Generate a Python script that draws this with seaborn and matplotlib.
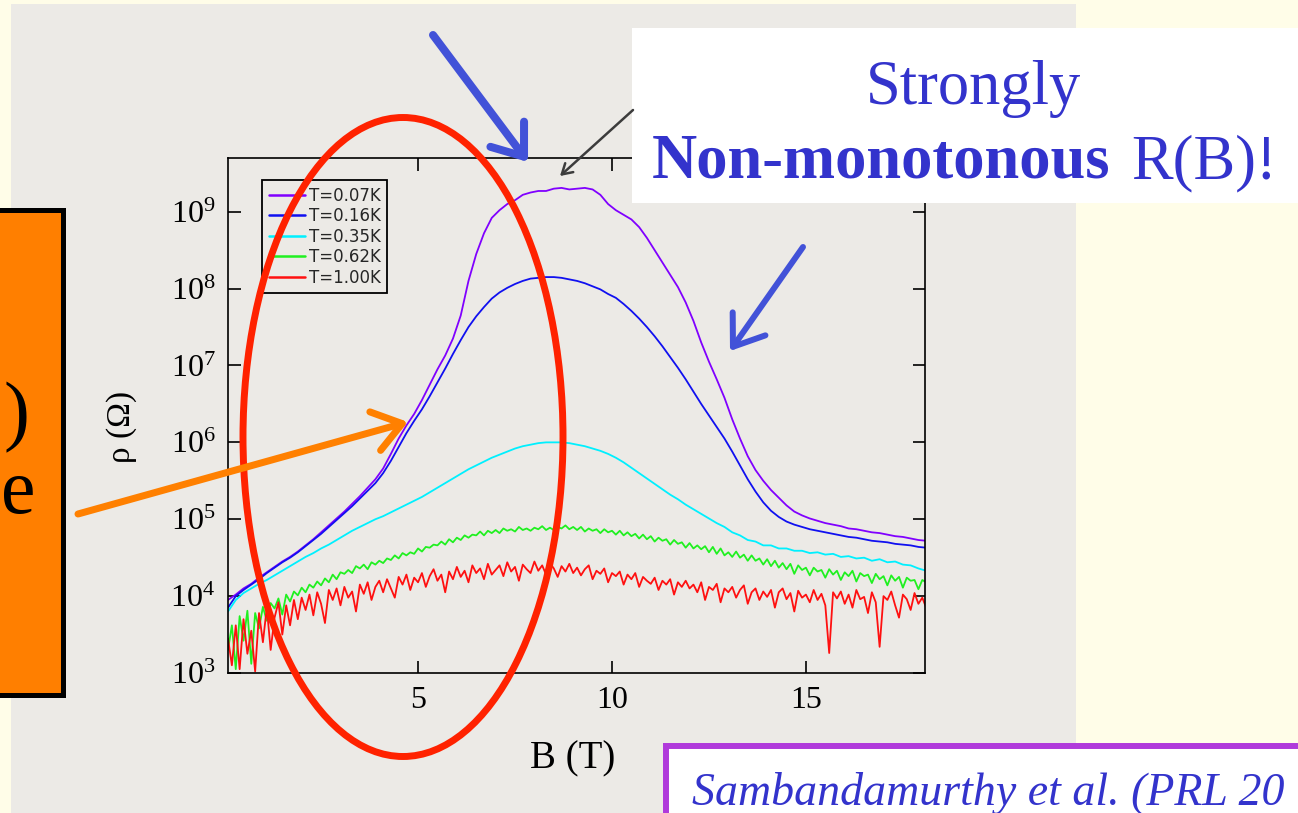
import numpy as np
import pandas as pd
import matplotlib
matplotlib.use("Agg")
import matplotlib.pyplot as plt
import seaborn as sns
from matplotlib.patches import Rectangle, Ellipse, FancyArrowPatch, ArrowStyle
from matplotlib.ticker import FixedLocator, NullLocator, LogFormatterMathtext

# ---------------- data ----------------
labels = ["T=0.07K", "T=0.16K", "T=0.35K", "T=0.62K", "T=1.00K"]
colors = ["#8000FF", "#1010F0", "#00F0FF", "#20F020", "#FF1010"]

# magnetic field grids (T)
B_coarse = np.round(np.arange(0.1, 18.15, 0.2), 2)   # 0.1 ... 18.1
B_fine = np.round(np.arange(0.1, 18.15, 0.1), 2)     # 0.1 ... 18.1

# log10(rho / Ohm)
log_rho_007 = [3.95, 4.02, 4.10, 4.16, 4.24, 4.31, 4.38, 4.45, 4.51, 4.58,
               4.66, 4.74, 4.83, 4.92, 5.01, 5.10, 5.20, 5.30, 5.41, 5.52,
               5.66, 5.85, 6.05, 6.22, 6.37, 6.55, 6.75, 6.95, 7.13, 7.35,
               7.65, 8.10, 8.45, 8.72, 8.92, 9.02, 9.10, 9.15, 9.22, 9.25,
               9.27, 9.27, 9.30, 9.31, 9.29, 9.30, 9.31, 9.29, 9.22, 9.10,
               9.02, 8.96, 8.90, 8.80, 8.66, 8.50, 8.34, 8.18, 8.02, 7.82,
               7.58, 7.30, 7.05, 6.82, 6.58, 6.30, 6.05, 5.82, 5.64, 5.50,
               5.38, 5.28, 5.18, 5.10, 5.05, 5.01, 4.98, 4.95, 4.93, 4.91,
               4.88, 4.87, 4.85, 4.83, 4.82, 4.80, 4.78, 4.77, 4.75, 4.73,
               4.72]

log_rho_016 = [3.85, 4.00, 4.08, 4.15, 4.22, 4.30, 4.37, 4.44, 4.50, 4.57,
               4.65, 4.73, 4.81, 4.90, 4.99, 5.08, 5.17, 5.27, 5.37, 5.47,
               5.60, 5.76, 5.94, 6.12, 6.28, 6.43, 6.60, 6.78, 6.96, 7.15,
               7.33, 7.50, 7.64, 7.76, 7.87, 7.95, 8.01, 8.06, 8.10, 8.13,
               8.14, 8.15, 8.15, 8.14, 8.12, 8.10, 8.07, 8.03, 7.99, 7.93,
               7.88, 7.80, 7.71, 7.61, 7.50, 7.38, 7.25, 7.11, 6.97, 6.82,
               6.66, 6.50, 6.35, 6.20, 6.05, 5.88, 5.70, 5.52, 5.36, 5.22,
               5.11, 5.03, 4.97, 4.93, 4.90, 4.87, 4.85, 4.83, 4.81, 4.79,
               4.77, 4.76, 4.74, 4.72, 4.71, 4.70, 4.68, 4.67, 4.66, 4.64,
               4.63]

log_rho_035 = [3.80, 3.95, 4.04, 4.10, 4.16, 4.21, 4.27, 4.33, 4.39, 4.45,
               4.51, 4.56, 4.62, 4.67, 4.73, 4.79, 4.85, 4.90, 4.95, 5.00,
               5.04, 5.09, 5.14, 5.19, 5.24, 5.29, 5.35, 5.41, 5.47, 5.53,
               5.59, 5.65, 5.70, 5.75, 5.80, 5.84, 5.88, 5.92, 5.95, 5.97,
               5.99, 6.00, 6.00, 6.00, 5.99, 5.97, 5.95, 5.92, 5.89, 5.85,
               5.80, 5.74, 5.67, 5.60, 5.53, 5.46, 5.39, 5.32, 5.26, 5.19,
               5.13, 5.07, 5.01, 4.95, 4.90, 4.83, 4.79, 4.73, 4.71, 4.66,
               4.66, 4.62, 4.62, 4.59, 4.59, 4.56, 4.57, 4.54, 4.55, 4.51,
               4.52, 4.49, 4.50, 4.46, 4.48, 4.44, 4.45, 4.41, 4.40, 4.36,
               4.33]

log_rho_062 = [3.30, 3.62, 3.05, 3.74, 3.42, 3.81, 3.12, 3.78, 3.58, 3.86,
               3.68, 3.91, 3.84, 3.97, 3.76, 4.02, 3.93, 4.06, 4.01, 4.11,
               4.05, 4.15, 4.11, 4.19, 4.14, 4.23, 4.18, 4.28, 4.22, 4.31,
               4.29, 4.34, 4.30, 4.39, 4.36, 4.41, 4.35, 4.44, 4.41, 4.46,
               4.43, 4.49, 4.47, 4.53, 4.49, 4.56, 4.53, 4.57, 4.55, 4.62,
               4.58, 4.64, 4.63, 4.67, 4.66, 4.71, 4.67, 4.74, 4.70, 4.76,
               4.73, 4.79, 4.76, 4.80, 4.79, 4.84, 4.79, 4.85, 4.82, 4.86,
               4.82, 4.88, 4.85, 4.87, 4.84, 4.90, 4.86, 4.88, 4.85, 4.89,
               4.87, 4.91, 4.86, 4.89, 4.86, 4.90, 4.88, 4.92, 4.87, 4.90,
               4.86, 4.90, 4.84, 4.88, 4.85, 4.87, 4.82, 4.87, 4.83, 4.85,
               4.80, 4.85, 4.79, 4.83, 4.78, 4.81, 4.75, 4.80, 4.74, 4.78,
               4.71, 4.76, 4.72, 4.74, 4.67, 4.73, 4.68, 4.70, 4.63, 4.69,
               4.62, 4.66, 4.61, 4.65, 4.57, 4.64, 4.55, 4.62, 4.53, 4.57,
               4.51, 4.58, 4.50, 4.54, 4.46, 4.53, 4.46, 4.49, 4.41, 4.48,
               4.39, 4.46, 4.37, 4.43, 4.35, 4.42, 4.29, 4.40, 4.34, 4.37,
               4.27, 4.37, 4.32, 4.34, 4.24, 4.35, 4.28, 4.33, 4.21, 4.31,
               4.26, 4.33, 4.19, 4.30, 4.26, 4.28, 4.17, 4.29, 4.22, 4.26,
               4.14, 4.27, 4.20, 4.25, 4.11, 4.24, 4.20, 4.21, 4.09, 4.21,
               4.18]

log_rho_100 = [3.45, 3.10, 3.62, 3.05, 3.70, 3.25, 3.55, 3.02, 3.78, 3.40,
               3.85, 3.30, 3.72, 3.92, 3.50, 3.88, 3.62, 3.95, 3.70, 3.98,
               3.82, 4.02, 3.75, 4.05, 3.90, 3.65, 4.08, 3.95, 4.10, 3.88,
               4.12, 3.98, 4.06, 3.80, 4.15, 4.03, 4.18, 3.95, 4.12, 4.20,
               4.05, 4.22, 4.10, 3.98, 4.25, 4.15, 4.28, 4.08, 4.24, 4.18,
               4.30, 4.12, 4.26, 4.35, 4.20, 4.28, 4.05, 4.32, 4.22, 4.38,
               4.25, 4.33, 4.18, 4.40, 4.30, 4.36, 4.22, 4.42, 4.28, 4.34,
               4.40, 4.26, 4.44, 4.32, 4.38, 4.20, 4.41, 4.35, 4.30, 4.45,
               4.33, 4.40, 4.28, 4.43, 4.36, 4.25, 4.39, 4.32, 4.42, 4.30,
               4.37, 4.27, 4.35, 4.40, 4.22, 4.33, 4.29, 4.36, 4.18, 4.30,
               4.26, 4.32, 4.15, 4.28, 4.22, 4.30, 4.12, 4.25, 4.20, 4.16,
               4.24, 4.08, 4.20, 4.15, 4.22, 4.02, 4.18, 4.12, 4.20, 4.10,
               4.15, 4.05, 4.18, 3.95, 4.12, 4.08, 4.16, 3.92, 4.10, 4.05,
               4.12, 3.98, 4.08, 4.14, 3.90, 4.05, 4.10, 3.95, 4.06, 3.99,
               4.08, 3.85, 4.05, 4.10, 3.96, 4.04, 3.80, 4.07, 3.98, 4.02,
               3.92, 4.08, 3.95, 4.03, 3.88, 3.26, 4.05, 3.97, 4.06, 3.90,
               4.02, 3.85, 4.08, 3.96, 3.99, 3.78, 4.05, 3.92, 3.34, 4.00,
               3.95, 4.06, 3.88, 3.72, 4.02, 3.96, 3.82, 4.04, 3.90, 3.98,
               3.85]

y_ticks = [1e3, 1e4, 1e5, 1e6, 1e7, 1e8, 1e9]
x_ticks = [5, 10, 15]

# ---------------- build long table ----------------
series = [(labels[0], B_coarse, log_rho_007),
          (labels[1], B_coarse, log_rho_016),
          (labels[2], B_coarse, log_rho_035),
          (labels[3], B_fine, log_rho_062),
          (labels[4], B_fine, log_rho_100)]
df = pd.concat([pd.DataFrame({"B": b, "rho": 10 ** np.asarray(v), "T": lab})
                for lab, b, v in series], ignore_index=True)
palette = dict(zip(labels, colors))

# ---------------- style ----------------
sns.set_style("ticks")
plt.rcParams["font.family"] = ["Liberation Serif", "DejaVu Serif"]
plt.rcParams["mathtext.fontset"] = "custom"
plt.rcParams["mathtext.rm"] = "Liberation Serif"
plt.rcParams["mathtext.it"] = "Liberation Serif:italic"
plt.rcParams["mathtext.bf"] = "Liberation Serif:bold"
plt.rcParams["mathtext.default"] = "regular"

W, H = 1298, 813
fig = plt.figure(figsize=(W / 100, H / 100), dpi=100, facecolor="#FFFDE8")


def fx(x):
    return x / W


def fy(y):
    return 1 - y / H


# photo (grey) background of the slide picture
fig.add_artist(Rectangle((fx(11), 0), fx(1076) - fx(11), fy(4), transform=fig.transFigure,
                         facecolor="#ECEAE6", edgecolor="none", zorder=-5))

ax = fig.add_axes([fx(228), fy(673), fx(925) - fx(228), fy(158) - fy(673)])
ax.set_facecolor("none")

sns.lineplot(data=df, x="B", y="rho", hue="T", hue_order=labels, palette=palette,
             estimator=None, sort=False, linewidth=1.3, ax=ax, legend=False)

ax.set_yscale("log")
ax.set_xlim(0.1, 18.07)
ax.set_ylim(1e3, 5e9)
ax.yaxis.set_major_locator(FixedLocator(y_ticks))
ax.yaxis.set_major_formatter(LogFormatterMathtext())
ax.yaxis.set_minor_locator(NullLocator())
ax.xaxis.set_major_locator(FixedLocator(x_ticks))
ax.xaxis.set_minor_locator(NullLocator())
ax.tick_params(which="major", direction="in", top=True, right=True, length=9, width=1.2,
               labelsize=23, pad=9, color="black", labelcolor="black")
for s in ax.spines.values():
    s.set_visible(True)
    s.set_linewidth(1.2)
    s.set_color("black")

ax.set_xlabel("B (T)", fontsize=28, color="black")
ax.xaxis.set_label_coords(0.495, -0.13)
ax.set_ylabel("ρ (Ω)", fontsize=24, color="black")
ax.yaxis.set_label_coords(-0.131, 0.478)

handles = ax.get_lines()[:5]
leg = ax.legend(handles, labels, loc="upper left", bbox_to_anchor=(0.049, 0.957),
                frameon=True, fancybox=False, edgecolor="black", facecolor="#ECEAE6",
                framealpha=1, prop={"family": "DejaVu Sans", "size": 12},
                handlelength=2.2, handletextpad=0.2, labelspacing=0.15,
                borderpad=0.4, borderaxespad=0)
leg.get_frame().set_linewidth(1.3)
for ln in leg.get_lines():
    ln.set_linewidth(1.8)

# ---------------- slide overlays ----------------
blue_txt = "#3333CC"

# orange side box
fig.add_artist(Rectangle((fx(-10), fy(695)), fx(62.5) - fx(-10), fy(210.5) - fy(695),
                         transform=fig.transFigure, facecolor="#FF7F00",
                         edgecolor="black", lw=3.6, zorder=4))
fig.text(fx(3), fy(436), ")", ha="left", va="baseline", fontsize=56, color="black", zorder=5)
fig.text(fx(1), fy(513), "e", ha="left", va="baseline", fontsize=56, color="black", zorder=5)

# white title box
fig.add_artist(Rectangle((fx(632), fy(203)), fx(1300) - fx(632), fy(28) - fy(203),
                         transform=fig.transFigure, facecolor="white", edgecolor="none", zorder=6))
fig.text(fx(973), fy(104), "Strongly", ha="center", va="baseline", fontsize=45,
         color=blue_txt, zorder=7)
fig.text(fx(1110), fy(178), "Non-monotonous", ha="right", va="baseline", fontsize=45,
         fontweight="bold", color=blue_txt, zorder=7)
fig.text(fx(1131), fy(178), "R(B)!", ha="left", va="baseline", fontsize=45,
         color=blue_txt, zorder=7)

# citation box
fig.add_artist(Rectangle((fx(666), fy(820)), fx(1310) - fx(666), fy(746) - fy(820),
                         transform=fig.transFigure, facecolor="white", edgecolor="#B03ADB",
                         lw=4.3, zorder=6))
fig.text(fx(692), fy(805), "Sambandamurthy et al. (PRL 20", ha="left", va="baseline",
         fontsize=33, style="italic", color=blue_txt, zorder=7)

# red ellipse
fig.add_artist(Ellipse((fx(403), fy(437)), 320 / W, 639 / H, transform=fig.transFigure,
                       fill=False, edgecolor="#FF2200", lw=5.0, zorder=8))


def arrow(p0, p1, color, lw_px, hl_px, hw_px, z):
    style = ArrowStyle("->", head_length=hl_px * 0.72, head_width=hw_px * 0.72)
    a = FancyArrowPatch(posA=(fx(p0[0]), fy(p0[1])), posB=(fx(p1[0]), fy(p1[1])),
                        transform=fig.transFigure, arrowstyle=style, mutation_scale=1,
                        lw=lw_px * 0.72, color=color, capstyle="round", joinstyle="round",
                        shrinkA=0, shrinkB=0, zorder=z)
    fig.add_artist(a)


arrow((433, 35), (528, 162), "#4252D8", 8, 28, 21, 9)
arrow((803, 247), (730, 351), "#4252D8", 6, 28, 20, 9)
arrow((633, 110), (560, 176), "#3C3C3C", 2.5, 10, 6, 9)
arrow((78, 514), (408, 422), "#FF8000", 7, 28, 20, 9)

fig.savefig("out.png", dpi=100, facecolor=fig.get_facecolor())
